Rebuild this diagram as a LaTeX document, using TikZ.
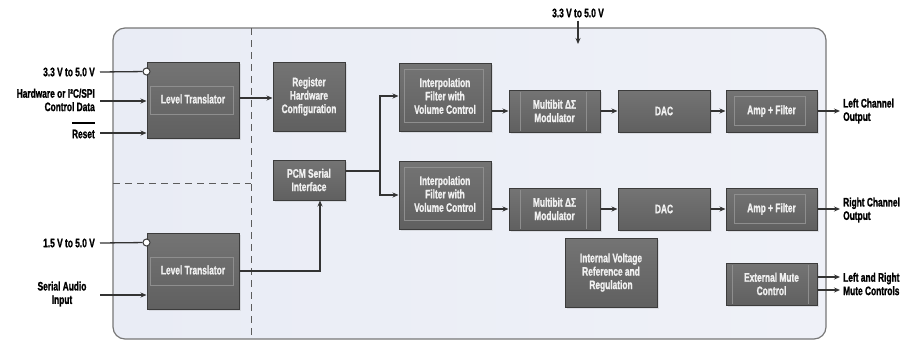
\documentclass[tikz,border=0pt]{standalone}
\usepackage{fontspec}
\setmainfont{Liberation Sans}[FakeStretch=0.68, BoldFeatures={FakeBold=1.2}]
\usetikzlibrary{arrows.meta,shadows}
\definecolor{boxfill}{HTML}{6A6A6A}
\definecolor{boxtop}{HTML}{747474}
\definecolor{boxbot}{HTML}{606060}
\definecolor{boxline}{HTML}{3C3C3C}
\definecolor{innerline}{HTML}{8E8E8E}
\definecolor{bgA}{HTML}{E9ECF5}
\definecolor{bgB}{HTML}{F8F9FC}
\definecolor{bgline}{HTML}{777777}
\definecolor{wire}{HTML}{333333}
\definecolor{boxtext}{HTML}{F0F0F0}
\tikzset{
  blk/.style={draw=boxline, line width=1pt, top color=boxtop, bottom color=boxbot,
    text=boxtext, font=\bfseries\fontsize{12.3}{13.4}\selectfont, align=center,
    inner sep=0pt, drop shadow={opacity=0.18, shadow xshift=2pt, shadow yshift=-2pt}},
  wd/.style={minimum width=#1},
  ht/.style={minimum height=#1},
  lbl/.style={font=\bfseries\fontsize{12.3}{13.4}\selectfont, text=black, inner sep=0pt},
  arr/.style={draw=wire, line width=1.3pt, -{Stealth[length=6pt,width=5pt,inset=2pt]}},
  wireline/.style={draw=wire, line width=1.3pt},
  inner/.style={draw=innerline, line width=0.6pt},
  pin/.style={circle, draw=boxline, fill=white, line width=1pt, minimum size=7pt, inner sep=0pt},
}
\begin{document}
\begin{tikzpicture}[x=1pt,y=-1pt]
\useasboundingbox (0,0) rectangle (915,341);
% background
\draw[draw=bgline, line width=1.2pt, rounded corners=12pt, left color=bgA, right color=bgA!60!bgB]
  (113,28) rectangle (826,339);
\draw[draw=wire!80, line width=0.9pt, dash pattern=on 7pt off 5pt] (251,28) -- (251,339);
\draw[draw=wire!80, line width=0.9pt, dash pattern=on 7pt off 5pt] (113,183) -- (251,183);

% blocks
\node[blk, wd=92pt, ht=76pt] (LT1) at (193,100) {};
\node[blk, wd=92pt, ht=76pt] (LT2) at (193,271) {};
\node[blk, wd=72pt, ht=69pt] (REG) at (309,96.5) {Register\\Hardware\\Configuration};
\node[blk, wd=72pt, ht=40pt] (PCM) at (309,180) {PCM Serial\\Interface};
\node[blk, wd=92pt, ht=68pt] (IF1) at (445,97) {};
\node[blk, wd=92pt, ht=68pt] (IF2) at (445,195) {};
\node[blk, wd=91pt, ht=42pt] (MOD1) at (554.5,111) {};
\node[blk, wd=91pt, ht=42pt] (MOD2) at (554.5,209) {};
\node[blk, wd=92pt, ht=42pt] (DAC1) at (664,111) {DAC};
\node[blk, wd=92pt, ht=42pt] (DAC2) at (664,209) {DAC};
\node[blk, wd=91pt, ht=42pt] (AMP1) at (771.5,111) {};
\node[blk, wd=91pt, ht=42pt] (AMP2) at (771.5,209) {};
\node[blk, wd=92pt, ht=69pt] (IVR) at (611,272.5) {Internal Voltage\\Reference and\\Regulation};
\node[blk, wd=91pt, ht=42pt] (EMC) at (771.5,284) {};

% inner decorations and texts
\foreach \n in {LT1,LT2}{
  \draw[inner] ([xshift=4pt,yshift=-25pt]\n.north west) rectangle ([xshift=-6pt,yshift=24pt]\n.south east);
  \node[lbl, text=boxtext] at ([yshift=1pt]\n.center) {Level Translator};
}
\foreach \n in {IF1,IF2}{
  \draw[inner] ([xshift=6pt,yshift=-7pt]\n.north west) rectangle ([xshift=-8pt,yshift=9pt]\n.south east);
  \node[lbl, text=boxtext, align=center] at ([yshift=1pt]\n.center) {Interpolation\\Filter with\\Volume Control};
}
\foreach \n in {MOD1,MOD2}{
  \draw[inner] ([xshift=12pt,yshift=-2pt]\n.north west) -- ([xshift=12pt,yshift=2pt]\n.south west);
  \draw[inner] ([xshift=-14pt,yshift=-2pt]\n.north east) -- ([xshift=-14pt,yshift=2pt]\n.south east);
  \node[lbl, text=boxtext, align=center] at (\n.center) {Multibit ΔΣ\\Modulator};
}
\foreach \n in {AMP1,AMP2}{
  \draw[inner] ([xshift=9pt,yshift=-7pt]\n.north west) rectangle ([xshift=-12pt,yshift=7pt]\n.south east);
  \node[lbl, text=boxtext] at (\n.center) {Amp + Filter};
}
\draw[inner] ([xshift=7pt,yshift=-2pt]EMC.north west) -- ([xshift=7pt,yshift=2pt]EMC.south west);
\draw[inner] ([xshift=-9pt,yshift=-2pt]EMC.north east) -- ([xshift=-9pt,yshift=2pt]EMC.south east);
\node[lbl, text=boxtext, align=center] at (EMC.center) {External Mute\\Control};

% left labels and inputs
\node[lbl, anchor=east] (V1) at (95,72) {3.3 V to 5.0 V};
\node[lbl, anchor=east, align=right] (HW) at (95,100) {Hardware or I²C/SPI\\Control Data};
\node[lbl, anchor=east] (RST) at (95,134) {Reset};
\draw[draw=black, line width=1.4pt] (RST.north west |- 0,123) -- (RST.north east |- 0,123);
\node[pin] (P1) at ([yshift=-10pt]LT1.north west) {};
\draw[wireline] ([xshift=5pt]V1.east) -- (P1);
\draw[arr] ([xshift=5pt]HW.east |- 0,101) -- (LT1.west |- 0,101);
\draw[arr] ([xshift=5pt]RST.east |- 0,133) -- (LT1.west |- 0,133);

\node[lbl, anchor=east] (V2) at (95,243) {1.5 V to 5.0 V};
\node[lbl, align=center] (SA) at (62,294) {Serial Audio\\Input};
\node[pin] (P2) at ([yshift=-10pt]LT2.north west) {};
\draw[wireline] ([xshift=5pt]V2.east) -- (P2);
\draw[arr] (100,295) coordinate (sain) -- (LT2.west |- sain);

% top supply
\node[lbl] (VT) at (578,13) {3.3 V to 5.0 V};
\coordinate (VTend) at (578,44);
\draw[arr] ([yshift=-3pt]VT.south) -- (VTend);

% internal connections
\draw[arr] (LT1.east |- 0,98) -- (REG.west |- 0,98);
\coordinate (br) at (380,171);
\draw[wireline] (PCM.east |- br) -- (br);
\draw[arr] (br) |- (IF1.west |- 0,96);
\draw[arr] (br) |- (IF2.west |- 0,195);
\draw[arr] (LT2.east) -| ([xshift=11pt]PCM.south);

\foreach \r in {1,2}{
  \draw[arr] (IF\r.east |- MOD\r.west) -- (MOD\r.west);
  \draw[arr] (MOD\r.east) -- (DAC\r.west);
  \draw[arr] (DAC\r.east) -- (AMP\r.west);
}

% right outputs
\node[lbl, anchor=west, align=left] (LO) at (843,111) {Left Channel\\Output};
\node[lbl, anchor=west, align=left] (RO) at (843,210) {Right Channel\\Output};
\node[lbl, anchor=west, align=left] (MO) at (843,284) {Left and Right\\Mute Controls};
\draw[arr] (AMP1.east) -- ([xshift=-3pt]LO.west);
\draw[arr] (AMP2.east) -- ([xshift=-3pt]LO.west |- AMP2.east);
\draw[arr] (EMC.east |- 0,277) -- ([xshift=-3pt]MO.west |- 0,277);
\draw[arr] (EMC.east |- 0,290) -- ([xshift=-3pt]MO.west |- 0,290);
\end{tikzpicture}
\end{document}
